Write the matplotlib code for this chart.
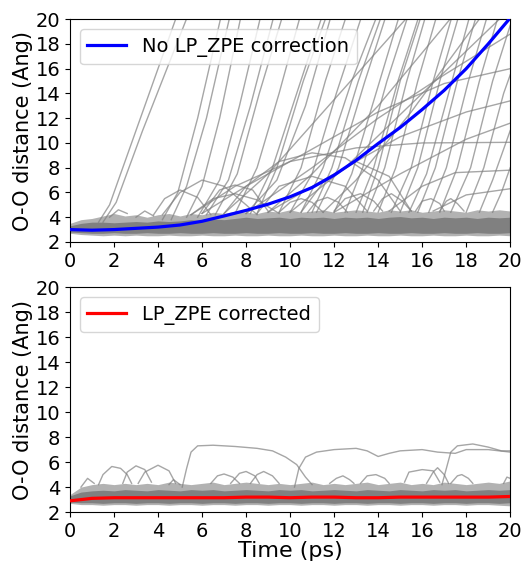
import numpy as np
import matplotlib.pyplot as plt

# time grid (ps) for the band and the averaged curves
t_band = [0, 0.5, 1, 1.5, 2, 2.5, 3, 3.5, 4, 4.5, 5, 5.5, 6, 6.5, 7, 7.5, 8, 8.5, 9, 9.5, 10,
          10.5, 11, 11.5, 12, 12.5, 13, 13.5, 14, 14.5, 15, 15.5, 16, 16.5, 17, 17.5, 18, 18.5, 19, 19.5, 20]

# dense band of trajectories near the hydrogen-bond distance (top panel)
top_band_lo = [2.7, 2.6, 2.55, 2.5, 2.55, 2.5, 2.55, 2.5, 2.5, 2.55, 2.5, 2.5, 2.55, 2.5, 2.5, 2.55, 2.5, 2.5, 2.55, 2.5, 2.5,
               2.55, 2.5, 2.5, 2.55, 2.5, 2.5, 2.55, 2.5, 2.5, 2.55, 2.5, 2.5, 2.55, 2.5, 2.5, 2.55, 2.5, 2.5, 2.55, 2.5]
top_band_hi = [3.5, 3.8, 3.9, 4.1, 4.3, 4.1, 4.2, 4.0, 4.2, 4.3, 4.1, 4.3, 4.2, 4.4, 4.3, 4.5, 4.4, 4.3, 4.5, 4.4, 4.6,
               4.4, 4.5, 4.6, 4.4, 4.5, 4.6, 4.5, 4.4, 4.6, 4.5, 4.6, 4.4, 4.5, 4.6, 4.5, 4.4, 4.6, 4.5, 4.6, 4.5]
top_core_lo = [2.8, 2.75, 2.7, 2.7, 2.75, 2.7, 2.7, 2.75, 2.7, 2.7, 2.75, 2.7, 2.7, 2.75, 2.7, 2.7, 2.75, 2.7, 2.7, 2.75, 2.7,
               2.7, 2.75, 2.7, 2.7, 2.75, 2.7, 2.7, 2.75, 2.7, 2.7, 2.75, 2.7, 2.7, 2.75, 2.7, 2.7, 2.75, 2.7, 2.7, 2.75]
top_core_hi = [3.3, 3.5, 3.6, 3.6, 3.55, 3.6, 3.65, 3.6, 3.7, 3.65, 3.7, 3.8, 3.75, 3.85, 3.8, 3.9, 4.0, 3.9, 3.95, 4.0, 3.9,
               4.0, 3.95, 4.0, 3.9, 4.0, 3.95, 4.0, 3.9, 4.0, 4.05, 3.95, 4.0, 3.9, 4.0, 3.95, 4.0, 3.9, 4.0, 3.95, 4.0]

# bottom panel band
bot_band_lo = [2.7, 2.6, 2.6, 2.55, 2.6, 2.6, 2.55, 2.6, 2.6, 2.55, 2.6, 2.6, 2.55, 2.6, 2.6, 2.55, 2.6, 2.6, 2.55, 2.6, 2.6,
               2.55, 2.6, 2.6, 2.55, 2.6, 2.6, 2.55, 2.6, 2.6, 2.55, 2.6, 2.6, 2.55, 2.6, 2.6, 2.55, 2.6, 2.6, 2.55, 2.5]
bot_band_hi = [3.4, 4.0, 4.2, 4.3, 4.2, 4.3, 4.2, 4.3, 4.2, 4.4, 4.3, 4.2, 4.3, 4.4, 4.2, 4.3, 4.4, 4.3, 4.2, 4.3, 4.2,
               4.3, 4.4, 4.2, 4.3, 4.2, 4.3, 4.4, 4.2, 4.3, 4.4, 4.2, 4.3, 4.2, 4.4, 4.3, 4.2, 4.3, 4.4, 4.3, 4.5]
bot_core_lo = [2.8, 2.75, 2.75, 2.7, 2.75, 2.75, 2.7, 2.75, 2.75, 2.7, 2.75, 2.75, 2.7, 2.75, 2.75, 2.7, 2.75, 2.75, 2.7, 2.75, 2.75,
               2.7, 2.75, 2.75, 2.7, 2.75, 2.75, 2.7, 2.75, 2.75, 2.7, 2.75, 2.75, 2.7, 2.75, 2.75, 2.7, 2.75, 2.75, 2.7, 2.75]
bot_core_hi = [3.3, 3.6, 3.7, 3.75, 3.7, 3.8, 3.75, 3.7, 3.8, 3.75, 3.7, 3.8, 3.75, 3.8, 3.7, 3.75, 3.8, 3.75, 3.7, 3.8, 3.75,
               3.8, 3.7, 3.75, 3.8, 3.75, 3.7, 3.8, 3.75, 3.7, 3.8, 3.75, 3.7, 3.8, 3.75, 3.8, 3.7, 3.75, 3.8, 3.75, 3.8]

# averaged curves
t_mean = [0, 1, 2, 3, 4, 5, 6, 7, 8, 9, 10, 11, 12, 13, 14, 15, 16, 17, 18, 19, 20]
mean_no_corr = [3.0, 2.95, 3.0, 3.1, 3.2, 3.37, 3.67, 4.1, 4.55, 5.05, 5.65, 6.4, 7.4, 8.6, 9.95, 11.25, 12.7, 14.25, 16.0, 18.0, 20.1]
mean_corr = [2.9, 3.1, 3.15, 3.15, 3.15, 3.15, 3.15, 3.15, 3.2, 3.2, 3.15, 3.2, 3.2, 3.15, 3.15, 3.2, 3.2, 3.2, 3.2, 3.2, 3.25]

# individual trajectories leaving the band, (time, distance) points
top_traj = [
    [(1.3, 3.6), (1.8, 5.0), (3.0, 11.0), (4.9, 20.5)],
    [(1.5, 3.6), (2.1, 5.2), (3.3, 11.0), (5.4, 20.5)],
    [(4.2, 3.8), (4.9, 6.0), (5.8, 12.0), (6.9, 20.5)],
    [(4.6, 3.8), (5.3, 6.5), (6.2, 12.0), (7.3, 20.5)],
    [(5.3, 4.0), (6.0, 6.5), (6.8, 12.0), (7.8, 20.5)],
    [(5.8, 4.0), (6.8, 7.0), (7.7, 13.0), (8.7, 20.5)],
    [(6.2, 4.2), (7.2, 7.0), (8.2, 13.0), (9.3, 20.5)],
    [(6.6, 4.2), (7.6, 7.5), (8.6, 14.0), (9.7, 20.5)],
    [(7.5, 4.3), (8.5, 8.0), (9.5, 14.0), (10.5, 20.5)],
    [(8.2, 4.3), (9.2, 8.0), (10.3, 14.0), (11.5, 20.5)],
    [(8.5, 4.3), (9.4, 8.0), (10.6, 15.0), (11.7, 20.5)],
    [(8.0, 4.3), (9.4, 7.0), (10.7, 13.0), (11.9, 20.5)],
    [(9.5, 4.4), (10.5, 8.0), (11.6, 15.0), (12.6, 20.5)],
    [(10.0, 4.4), (11.0, 7.5), (12.1, 14.0), (13.3, 20.5)],
    [(10.5, 4.4), (11.5, 8.0), (12.8, 15.0), (14.0, 20.5)],
    [(11.0, 4.4), (11.9, 8.0), (13.1, 15.0), (14.2, 20.5)],
    [(11.2, 4.4), (12.2, 8.0), (13.4, 15.0), (14.4, 20.5)],
    [(12.0, 4.4), (12.8, 7.5), (13.9, 14.0), (15.0, 20.5)],
    [(12.5, 4.4), (13.3, 8.0), (14.4, 15.0), (15.4, 20.5)],
    [(13.0, 4.4), (13.8, 8.0), (14.9, 15.0), (15.9, 20.5)],
    [(13.3, 4.4), (14.0, 8.0), (15.0, 15.0), (16.0, 20.5)],
    [(13.5, 4.4), (14.3, 8.0), (15.3, 15.0), (16.2, 20.5)],
    [(14.0, 4.4), (14.8, 8.0), (15.8, 15.0), (16.7, 20.5)],
    [(14.6, 4.4), (15.5, 8.0), (16.5, 15.0), (17.4, 20.5)],
    [(15.0, 4.4), (15.8, 8.0), (16.8, 15.0), (17.7, 20.5)],
    [(15.4, 4.4), (16.2, 7.5), (17.2, 14.0), (18.2, 20.5)],
    [(15.8, 4.4), (16.6, 8.0), (17.6, 15.0), (18.5, 20.5)],
    [(16.3, 4.4), (17.1, 8.0), (18.1, 15.0), (19.0, 20.5)],
    [(16.8, 4.4), (17.6, 8.0), (18.6, 15.0), (19.5, 20.5)],
    [(17.3, 4.4), (18.2, 8.0), (19.2, 15.0), (20.0, 19.5)],
    [(18.0, 4.4), (18.8, 8.0), (19.7, 14.0), (20.0, 15.5)],
    [(18.6, 4.4), (19.2, 7.0), (20.0, 11.0)],
    [(19.2, 4.4), (19.6, 6.0), (20.0, 8.0)],
    [(7.0, 4.3), (9.0, 7.5), (12.0, 13.5), (15.5, 20.5)],
    [(9.0, 4.4), (11.0, 7.5), (14.0, 13.0), (17.5, 20.5)],
    [(10.0, 4.4), (12.5, 8.0), (16.0, 14.0), (19.8, 20.5)],
    [(11.5, 4.4), (13.0, 7.0), (15.5, 12.5), (18.8, 20.5)],
    [(6.0, 4.3), (8.0, 6.5), (11.0, 9.5), (14.0, 12.5), (17.0, 14.8), (20.0, 16.0)],
    [(8.0, 4.3), (11.0, 8.0), (14.0, 12.0), (17.0, 15.5), (20.0, 18.8)],
    [(5.5, 4.2), (7.5, 6.5), (10.0, 8.5), (13.0, 9.6), (16.0, 10.0), (20.0, 10.05)],
    [(9.0, 4.4), (12.0, 7.5), (15.0, 10.5), (18.0, 12.5), (20.0, 13.4)],
    [(12.0, 4.4), (15.0, 7.5), (18.0, 10.3), (20.0, 11.6)],
    [(14.5, 4.5), (16.0, 6.5), (17.5, 7.6), (20.0, 7.8)],
    [(16.5, 4.5), (18.0, 5.8), (20.0, 6.3)],
    # arcs that fall back into the band
    [(3.8, 4.2), (4.3, 5.5), (5.0, 6.2), (5.8, 5.6), (6.4, 4.2)],
    [(4.2, 4.2), (5.0, 6.0), (6.0, 7.0), (7.0, 6.5), (8.0, 5.0), (8.5, 4.2)],
    [(7.0, 4.3), (8.0, 6.5), (9.5, 8.5), (11.0, 9.2), (12.5, 8.8), (14.0, 7.0), (15.0, 4.5)],
    [(10.5, 4.4), (11.5, 6.8), (13.0, 8.5), (14.5, 7.3), (15.5, 4.5)],
    [(8.5, 4.3), (9.5, 6.5), (11.0, 7.3), (12.5, 6.5), (13.5, 4.5)],
    [(12.0, 4.5), (12.5, 5.5), (13.2, 5.9), (13.8, 5.3), (14.2, 4.5)],
    [(13.8, 4.5), (14.2, 5.5), (14.6, 5.9), (15.1, 5.3), (15.5, 4.5)],
    [(15.7, 4.5), (16.0, 5.3), (16.4, 5.5), (16.8, 5.1), (17.0, 4.5)],
    [(16.8, 4.5), (17.1, 5.3), (17.3, 5.5), (17.6, 5.1), (17.9, 4.5)],
    [(5.5, 4.2), (6.5, 5.5), (7.5, 5.9), (8.5, 5.4), (9.5, 4.3)],
    [(9.5, 4.4), (10.0, 5.2), (10.5, 5.5), (11.0, 5.2), (11.5, 4.4)],
    [(10.8, 4.4), (11.2, 5.3), (11.7, 5.6), (12.2, 5.2), (12.6, 4.4)],
    [(6.0, 4.3), (6.8, 6.2), (7.5, 6.6), (8.3, 6.2), (9.0, 4.5)],
    [(1.8, 4.0), (2.2, 4.6), (2.6, 4.3)],
    [(3.0, 4.0), (3.4, 4.5), (3.8, 4.1)],
]

bot_traj = [
    [(1.3, 4.2), (1.5, 5.0), (1.9, 5.65), (2.3, 5.5), (2.6, 5.0), (2.8, 4.3)],
    [(2.4, 4.3), (2.6, 5.2), (3.0, 5.7), (3.4, 5.4), (3.7, 4.4)],
    [(3.1, 4.3), (3.4, 5.2), (4.0, 5.75), (4.5, 5.3), (4.8, 4.3)],
    [(0.5, 4.0), (0.8, 4.7), (1.1, 4.3)],
    [(4.5, 4.2), (4.7, 4.6), (5.0, 4.2)],
    [(5.1, 4.0), (5.3, 5.5), (5.5, 6.8), (5.8, 7.3), (6.5, 7.35), (7.5, 7.25), (8.5, 7.1), (9.2, 6.9),
     (9.8, 6.4), (10.3, 5.8), (10.7, 4.8), (11.0, 4.2)],
    [(10.2, 4.0), (10.4, 5.5), (10.7, 6.4), (11.2, 6.8), (12.0, 7.0), (13.0, 7.1), (13.5, 6.9), (14.0, 6.45),
     (14.5, 6.7), (15.0, 6.9), (16.0, 7.0), (16.7, 6.8), (17.5, 6.7), (18.0, 7.0), (19.0, 7.0), (20.0, 6.8)],
    [(16.9, 4.2), (17.1, 5.5), (17.3, 6.8), (17.6, 7.3), (18.3, 7.45), (19.0, 7.2), (19.6, 6.9), (20.0, 6.9)],
    [(6.4, 4.3), (6.7, 4.9), (7.0, 5.05), (7.4, 4.8), (7.7, 4.3)],
    [(7.3, 4.3), (7.7, 5.1), (8.0, 5.25), (8.4, 4.9), (8.6, 4.3)],
    [(8.2, 4.3), (8.5, 5.0), (8.8, 5.25), (9.2, 4.9), (9.5, 4.3)],
    [(15.2, 4.4), (15.4, 5.2), (16.0, 5.4), (16.5, 5.3), (16.8, 4.4)],
    [(16.2, 4.3), (16.5, 5.2), (16.7, 5.55), (17.0, 5.0), (17.2, 4.3)],
    [(17.3, 4.3), (17.6, 4.9), (17.8, 5.0), (18.1, 4.7), (18.3, 4.3)],
    [(13.2, 4.3), (13.5, 4.9), (13.9, 5.0), (14.3, 4.7), (14.5, 4.3)],
    [(11.8, 4.3), (12.1, 4.7), (12.4, 4.9), (12.7, 4.6), (12.9, 4.3)],
    [(19.7, 4.3), (19.85, 4.8), (20.0, 4.7)],
]

plt.rcParams['font.size'] = 14

fig = plt.figure(figsize=(5.26, 5.64), dpi=100)
ax1 = fig.add_axes([0.133, 0.571, 0.837, 0.395])
ax2 = fig.add_axes([0.133, 0.092, 0.837, 0.399])


def draw_panel(ax, band_lo, band_hi, core_lo, core_hi, trajs):
    ax.fill_between(t_band, band_lo, band_hi, color='gray', alpha=0.6, lw=0, zorder=1)
    ax.fill_between(t_band, core_lo, core_hi, color='gray', alpha=1.0, lw=0, zorder=1)
    for tr in trajs:
        tt = [p[0] for p in tr]
        dd = [p[1] for p in tr]
        ax.plot(tt, dd, color='gray', alpha=0.7, lw=1, zorder=2)
    ax.set_xlim(0, 20)
    ax.set_ylim(2, 20)
    ax.set_xticks(range(0, 21, 2))
    ax.set_yticks(range(2, 21, 2))
    ax.tick_params(labelsize=14)
    ax.set_ylabel('O-O distance (Ang)', fontsize=15, labelpad=2)


draw_panel(ax1, top_band_lo, top_band_hi, top_core_lo, top_core_hi, top_traj)
ax1.plot(t_mean, mean_no_corr, color='blue', lw=2.3, zorder=3, label='No LP_ZPE correction')
ax1.legend(loc='upper left', fontsize=14)

draw_panel(ax2, bot_band_lo, bot_band_hi, bot_core_lo, bot_core_hi, bot_traj)
ax2.plot(t_mean, mean_corr, color='red', lw=2.3, zorder=3, label='LP_ZPE corrected')
ax2.legend(loc='upper left', fontsize=14)
ax2.set_xlabel('Time (ps)', fontsize=16, labelpad=0)

fig.savefig('out.png', dpi=100)
